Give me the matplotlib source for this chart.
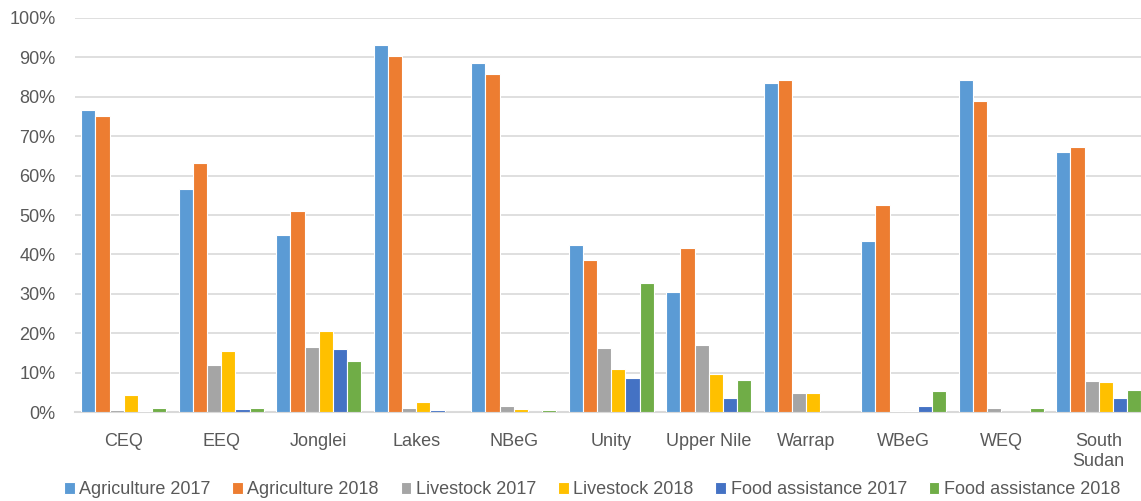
import numpy as np
import matplotlib
matplotlib.use("Agg")
import matplotlib.pyplot as plt
from matplotlib.ticker import PercentFormatter

# share of households by livelihood source, per state
states = ["CEQ", "EEQ", "Jonglei", "Lakes", "NBeG", "Unity", "Upper Nile",
          "Warrap", "WBeG", "WEQ", "South\nSudan"]

agriculture_2017 = [76.5, 56.5, 45.0, 93.2, 88.5, 42.4, 30.5, 83.5, 43.5, 84.3, 66.0]
agriculture_2018 = [75.0, 63.1, 51.0, 90.4, 85.8, 38.6, 41.6, 84.1, 52.6, 78.8, 67.3]
livestock_2017 = [0.6, 12.0, 16.6, 1.0, 1.6, 16.2, 17.1, 4.8, 0.4, 1.1, 7.9]
livestock_2018 = [4.4, 15.6, 20.6, 2.7, 0.9, 10.9, 9.7, 4.8, 0.3, 0.1, 7.7]
food_assistance_2017 = [0.3, 0.8, 16.0, 0.6, 0.0, 8.8, 3.7, 0.0, 1.6, 0.0, 3.6]
food_assistance_2018 = [1.1, 1.1, 12.9, 0.0, 0.6, 32.8, 8.3, 0.0, 5.5, 1.0, 5.6]

series = [
    ("Agriculture 2017", agriculture_2017, "#5B9BD5"),
    ("Agriculture 2018", agriculture_2018, "#ED7D31"),
    ("Livestock 2017", livestock_2017, "#A5A5A5"),
    ("Livestock 2018", livestock_2018, "#FFC000"),
    ("Food assistance 2017", food_assistance_2017, "#4472C4"),
    ("Food assistance 2018", food_assistance_2018, "#70AD47"),
]

text_color = "#595959"
plt.rcParams["font.family"] = ["Liberation Sans", "DejaVu Sans"]
plt.rcParams["font.size"] = 13

fig = plt.figure(figsize=(11.41, 5.01), dpi=100)
ax = fig.add_axes([75 / 1141, 88.7 / 501, 1072.5 / 1141, 394.6 / 501])

x = np.arange(len(states))
w = 0.87 / len(series)
for j, (name, vals, color) in enumerate(series):
    ax.bar(x + (j - (len(series) - 1) / 2) * w, np.array(vals) / 100, w,
           color=color, edgecolor="white", linewidth=0.8, label=name, zorder=3)

ax.set_xlim(-0.5, len(states) - 0.5)
ax.set_ylim(0, 1)
ax.set_yticks(np.arange(0, 1.01, 0.1))
ax.yaxis.set_major_formatter(PercentFormatter(1.0, decimals=0))
ax.set_xticks(x)
ax.set_xticklabels(states)
ax.grid(True, axis="y", color="#D9D9D9", linewidth=1.2, zorder=0)
for s in ["top", "right", "left"]:
    ax.spines[s].set_visible(False)
ax.spines["bottom"].set_color("#D9D9D9")
ax.spines["bottom"].set_linewidth(1.5)
ax.tick_params(axis="both", length=0, colors=text_color, labelsize=13)
ax.tick_params(axis="x", pad=15)
ax.tick_params(axis="y", pad=14)

leg = fig.legend(loc="center", bbox_to_anchor=(592 / 1141, 11 / 501), ncol=6,
                 frameon=False, handlelength=0.6, handleheight=0.6,
                 handletextpad=0.25, columnspacing=1.2, fontsize=13)
for t in leg.get_texts():
    t.set_color(text_color)

fig.savefig("out.png", dpi=100)
